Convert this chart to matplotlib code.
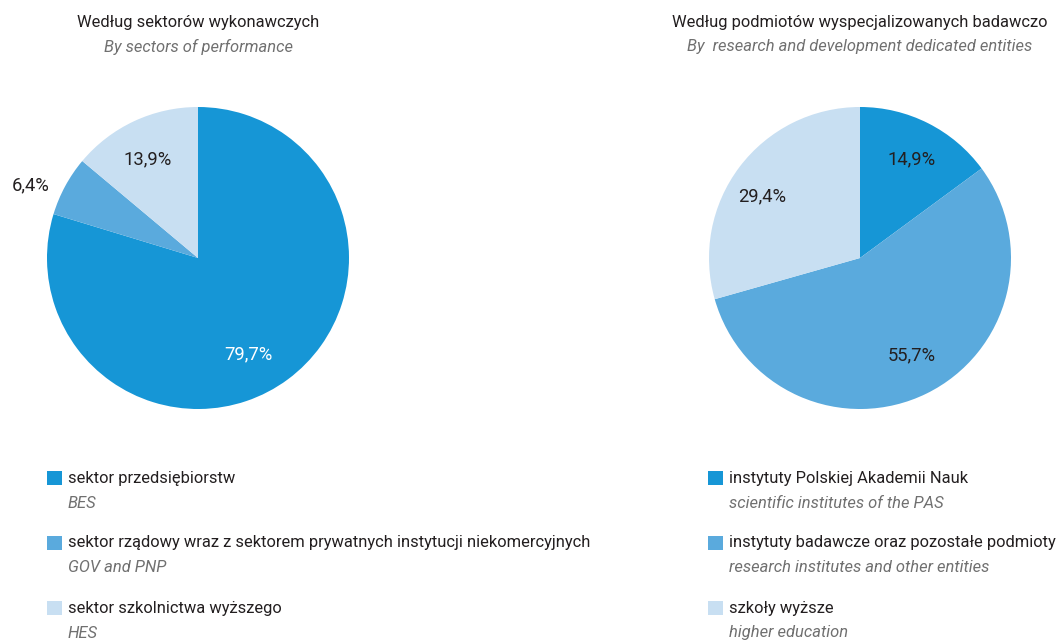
import numpy as np
import matplotlib
matplotlib.use("Agg")
import matplotlib.pyplot as plt
from matplotlib.patches import Rectangle

plt.rcParams['font.family'] = ['Roboto', 'DejaVu Sans']

# ---- data ----
left_title = "Według sektorów wykonawczych"
left_sub = "By sectors of performance"
left_values = [79.7, 6.4, 13.9]
left_labels_pl = ["sektor przedsiębiorstw",
                  "sektor rządowy wraz z sektorem prywatnych instytucji niekomercyjnych",
                  "sektor szkolnictwa wyższego"]
left_labels_en = ["BES", "GOV and PNP", "HES"]

right_title = "Według podmiotów wyspecjalizowanych badawczo"
right_sub = "By  research and development dedicated entities"
right_values = [14.9, 55.7, 29.4]
right_labels_pl = ["instytuty Polskiej Akademii Nauk",
                   "instytuty badawcze oraz pozostałe podmioty",
                   "szkoły wyższe"]
right_labels_en = ["scientific institutes of the PAS",
                   "research institutes and other entities",
                   "higher education"]

colors = ["#1696d6", "#5aaadd", "#c8dff2"]
DARK = "#231f20"
GRAY = "#707070"
FS = 11.9
FS_LAB = 13.2

W, H = 1059, 640
fig = plt.figure(figsize=(W / 100, H / 100), dpi=100)

def px_axes(x0, y0, x1, y1):
    return fig.add_axes([x0 / W, 1 - y1 / H, (x1 - x0) / W, (y1 - y0) / H])

def draw_pie(cx, cy, r, values, dists, angle_off, txtcols):
    ax = px_axes(cx - r, cy - r, cx + r, cy + r)
    wedges, _ = ax.pie(values, colors=colors, startangle=90, counterclock=False,
                       radius=1, wedgeprops=dict(linewidth=0))
    for w, v, d, ao, tc in zip(wedges, values, dists, angle_off, txtcols):
        mid = np.deg2rad((w.theta1 + w.theta2) / 2 + ao)
        ax.text(d * np.cos(mid), d * np.sin(mid), f"{v:.1f}".replace(".", ",") + "%",
                ha="center", va="center", fontsize=FS_LAB, color=tc)
    ax.set_xlim(-1, 1)
    ax.set_ylim(-1, 1)
    ax.set_aspect("equal")
    ax.axis("off")

draw_pie(198, 258, 151, left_values, [0.72, 1.21, 0.73], [-9, 5, 2], ["white", DARK, DARK])
draw_pie(860, 258, 151, right_values, [0.735, 0.73, 0.765], [-1, 2, 5], [DARK, DARK, DARK])

def title(cx, t, s):
    fig.text(cx / W, 1 - 22 / H, t, ha="center", va="center", fontsize=FS, color=DARK)
    fig.text(cx / W, 1 - 47 / H, s, ha="center", va="center", fontsize=FS,
             color=GRAY, style="italic")

title(198, left_title, left_sub)
title(860, right_title, right_sub)

def legend(x_sq, x_txt, pl, en):
    ys = [478, 543, 608]
    for y, p, e, c in zip(ys, pl, en, colors):
        fig.patches.append(Rectangle((x_sq / W, 1 - (y + 7) / H), 15 / W, 14 / H,
                                     transform=fig.transFigure, facecolor=c,
                                     edgecolor="none"))
        fig.text(x_txt / W, 1 - y / H, p, ha="left", va="center", fontsize=FS, color=DARK)
        fig.text(x_txt / W, 1 - (y + 25) / H, e, ha="left", va="center", fontsize=FS,
                 color=GRAY, style="italic")

legend(47, 68, left_labels_pl, left_labels_en)
legend(708, 729, right_labels_pl, right_labels_en)

fig.savefig("out.png", dpi=100, facecolor="white")
